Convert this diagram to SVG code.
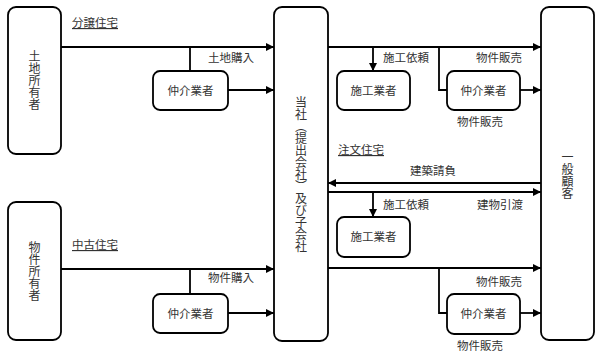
<svg xmlns="http://www.w3.org/2000/svg" width="601" height="357" viewBox="0 0 601 357">
<defs>
<marker id="ah" viewBox="0 0 10 10" refX="10" refY="5" markerWidth="9" markerHeight="8" markerUnits="userSpaceOnUse" orient="auto">
<path d="M0,0 L10,5 L0,10 Z" fill="#000"/>
</marker>
<style>
.box{fill:#fff;stroke:#000;stroke-width:1.8}
.ln{fill:none;stroke:#000;stroke-width:1.8}
.t{font-family:"Noto Sans CJK JP","Noto Sans CJK SC",sans-serif;font-size:11.5px;fill:#333}
.v{writing-mode:vertical-rl;text-anchor:middle;font-size:12px}
.u{text-decoration:underline}
</style>
</defs>
<rect width="601" height="357" fill="#fff"/>
<g id="connectors">
<path class="ln" d="M61,47 H274" marker-end="url(#ah)"/>
<path class="ln" d="M190,47 V71"/>
<path class="ln" d="M228,90 H274" marker-end="url(#ah)"/>
<path class="ln" d="M61,269 H274" marker-end="url(#ah)"/>
<path class="ln" d="M190,269 V294"/>
<path class="ln" d="M228,313 H274" marker-end="url(#ah)"/>
<path class="ln" d="M328,47 H541" marker-end="url(#ah)"/>
<path class="ln" d="M373,47 V71" marker-end="url(#ah)"/>
<path class="ln" d="M439,47 V90 H447"/>
<path class="ln" d="M520,90 H541" marker-end="url(#ah)"/>
<path class="ln" d="M541,183 H328" marker-end="url(#ah)"/>
<path class="ln" d="M328,192 H541" marker-end="url(#ah)"/>
<path class="ln" d="M373,192 V217" marker-end="url(#ah)"/>
<path class="ln" d="M328,268 H541" marker-end="url(#ah)"/>
<path class="ln" d="M439,268 V313 H447"/>
<path class="ln" d="M520,313 H541" marker-end="url(#ah)"/>
</g>
<g id="land-owner">
<rect class="box" x="8" y="7" width="53" height="147" rx="8"/>
<text class="t v" x="34.5" y="80.5">土地所有者</text>
</g>
<g id="property-owner">
<rect class="box" x="8" y="202" width="53" height="138" rx="8"/>
<text class="t v" x="34.5" y="271">物件所有者</text>
</g>
<g id="company">
<rect class="box" x="274" y="7" width="54" height="334" rx="8"/>
<text class="t v" x="301" y="174">当社（提出会社）及び子会社</text>
</g>
<g id="customer">
<rect class="box" x="541" y="7" width="53" height="333" rx="8"/>
<text class="t v" x="567.5" y="175">一般顧客</text>
</g>
<g id="broker1">
<rect class="box" x="153" y="71" width="75" height="39" rx="7"/>
<text class="t" x="190.5" y="94.5" text-anchor="middle">仲介業者</text>
</g>
<g id="broker2">
<rect class="box" x="153" y="294" width="75" height="39" rx="7"/>
<text class="t" x="190.5" y="317.5" text-anchor="middle">仲介業者</text>
</g>
<g id="builder1">
<rect class="box" x="337" y="71" width="73" height="39" rx="7"/>
<text class="t" x="373.5" y="94.5" text-anchor="middle">施工業者</text>
</g>
<g id="broker3">
<rect class="box" x="447" y="71" width="73" height="39" rx="7"/>
<text class="t" x="483.5" y="94.5" text-anchor="middle">仲介業者</text>
</g>
<g id="builder2">
<rect class="box" x="337" y="217" width="73" height="40" rx="7"/>
<text class="t" x="373.5" y="241" text-anchor="middle">施工業者</text>
</g>
<g id="broker4">
<rect class="box" x="447" y="294" width="73" height="40" rx="7"/>
<text class="t" x="483.5" y="318" text-anchor="middle">仲介業者</text>
</g>
<g id="labels">
<text class="t u" x="72" y="27">分譲住宅</text>
<text class="t" x="208" y="62">土地購入</text>
<text class="t" x="383" y="62">施工依頼</text>
<text class="t" x="476" y="62">物件販売</text>
<text class="t" x="457" y="126">物件販売</text>
<text class="t u" x="338" y="154">注文住宅</text>
<text class="t" x="410" y="175">建築請負</text>
<text class="t" x="383" y="209">施工依頼</text>
<text class="t" x="477" y="209">建物引渡</text>
<text class="t u" x="72" y="249">中古住宅</text>
<text class="t" x="208" y="282">物件購入</text>
<text class="t" x="476" y="286">物件販売</text>
<text class="t" x="457" y="350">物件販売</text>
</g>
</svg>
